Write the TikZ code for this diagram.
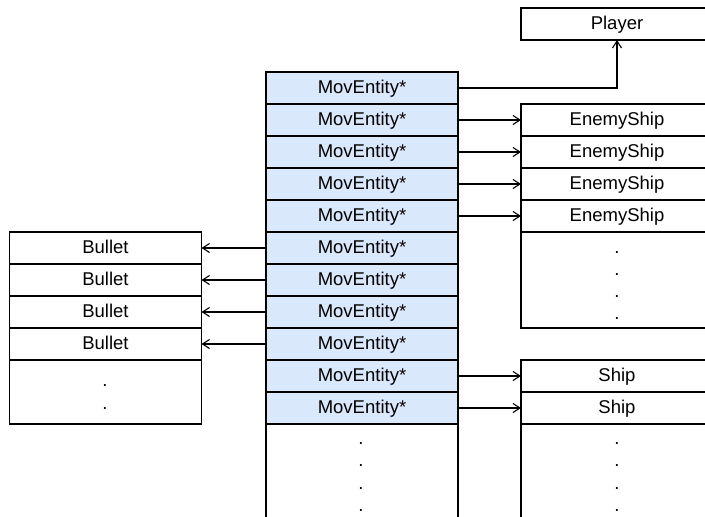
\documentclass[tikz,border=0pt]{standalone}
\usepackage{fontspec}
\setmainfont{Liberation Sans}
\usetikzlibrary{arrows.meta}
\definecolor{cellblue}{HTML}{DAE8FC}
\begin{document}
\begin{tikzpicture}[x=1pt,y=-1pt,
  font=\fontsize{18.5}{22}\selectfont,
  cell/.style={draw=black,line width=1.3pt,rectangle,minimum width=192pt,minimum height=32pt,inner sep=0pt,outer sep=0pt,anchor=center,text height=13pt,text depth=2pt},
  movcell/.style={cell,fill=cellblue},
  blank/.style={draw=black,line width=1.3pt,rectangle,minimum width=192pt,inner sep=0pt,outer sep=0pt,anchor=center},
  dotmark/.style={anchor=base,inner sep=0pt,outer sep=0pt},
  link/.style={line width=1.1pt,-{Straight Barb[length=7pt,width=9pt,line width=1.1pt]}},
  colline/.style={line width=1.3pt}]
\useasboundingbox (0,0) rectangle (705,517);
\clip (0,0) rectangle (705,517);
% central column
\foreach \i in {0,...,10}{
  \node[movcell] (m\i) at (362,{88+32*\i}) {MovEntity*};
}
\coordinate (cl) at (266,530);
\coordinate (cr) at (458,530);
\draw[colline] (m10.south west) -- (cl);
\draw[colline] (m10.south east) -- (cr);
\foreach \y [count=\k] in {444,466,489,511}{
  \node[dotmark] (cd\k) at (361,\y) {.};
}
% player
\node[cell] (player) at (617,24) {Player};
% enemy ships
\foreach \i in {1,...,4}{
  \node[cell] (e\i) at (617,{88+32*\i}) {EnemyShip};
}
\node[blank,minimum height=96pt] (eb) at (617,280) {};
\foreach \y [count=\k] in {253,275,297,319}{
  \node[dotmark] (ed\k) at (617,\y) {.};
}
% ships
\node[cell] (s1) at (617,376) {Ship};
\node[cell] (s2) at (617,408) {Ship};
\coordinate (sl) at (521,530);
\coordinate (sr) at (713,530);
\draw[colline] (s2.south west) -- (sl);
\draw[colline] (s2.south east) -- (sr);
\foreach \y [count=\k] in {444,466,489,511}{
  \node[dotmark] (sd\k) at (617,\y) {.};
}
% bullets
\foreach \i in {1,...,4}{
  \node[cell] (b\i) at (105.5,{216+32*\i}) {Bullet};
}
\node[blank,minimum height=64pt] (bb) at (105.5,392) {};
\node[dotmark] (bd1) at (105,386) {.};
\node[dotmark] (bd2) at (105,409) {.};
% connectors
\draw[link] (m0.east) -| (player.south);
\foreach \i in {1,...,4}{
  \draw[link] (m\i.east) -- (e\i.west);
}
\foreach \i/\j in {5/1,6/2,7/3,8/4}{
  \draw[link] (m\i.west) -- (b\j.east);
}
\draw[link] (m9.east) -- (s1.west);
\draw[link] (m10.east) -- (s2.west);
\end{tikzpicture}
\end{document}
